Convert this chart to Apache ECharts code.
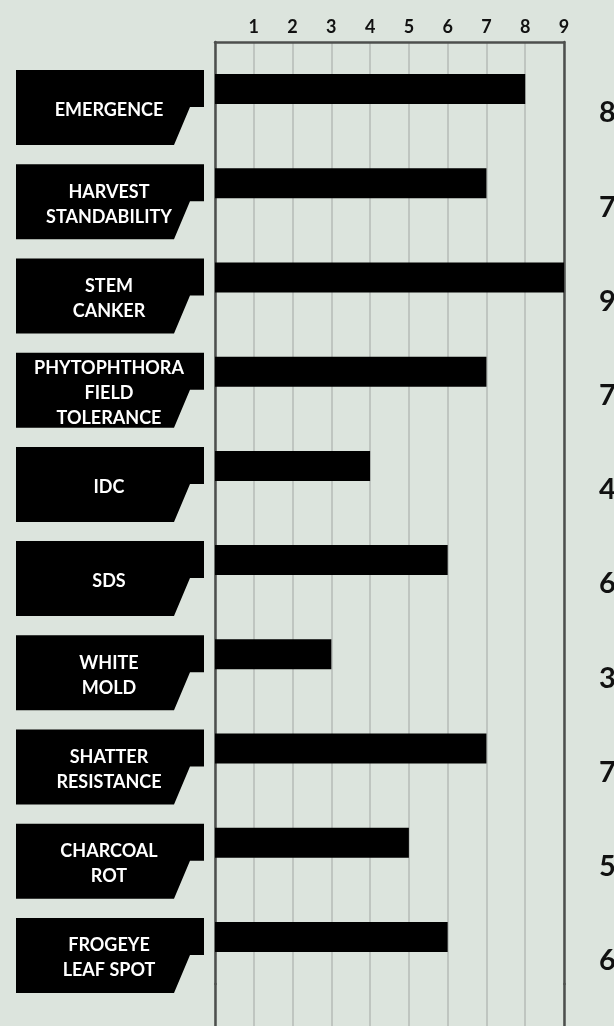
<!DOCTYPE html>
<html>
<head>
<meta charset="utf-8">
<script src="https://cdn.jsdelivr.net/npm/echarts@6/dist/echarts.min.js"></script>
<style>
html,body{margin:0;padding:0;background:#dce4dd;}
#chart{width:614px;height:1026px;}
</style>
</head>
<body>
<div id="chart"></div>
<script>
const categories = ['EMERGENCE','HARVEST\nSTANDABILITY','STEM\nCANKER','PHYTOPHTHORA\nFIELD\nTOLERANCE','IDC','SDS','WHITE\nMOLD','SHATTER\nRESISTANCE','CHARCOAL\nROT','FROGEYE\nLEAF SPOT'];
const values = [8, 7, 9, 7, 4, 6, 3, 7, 5, 6];
const tickLabels = ['', '1', '2', '3', '4', '5', '6', '7', '8', '9'];

const chart = echarts.init(document.getElementById('chart'), null, {renderer: 'canvas'});
const FONT = 'Lato, "Open Sans", sans-serif';
const BORDER = {show: true, lineStyle: {color: '#4d4f4d', width: 2.5}};
const SPLIT = {show: true, lineStyle: {color: '#b6bbb6', width: 1.5}};
const NONE = {show: false};

const option = {
  backgroundColor: '#dce4dd',
  animation: false,
  grid: [
    {left: 215, right: 50, top: 42, height: 942},
    {left: 215, right: 50, top: 984, bottom: -10}
  ],
  xAxis: [{
    gridIndex: 0, type: 'value', position: 'top', min: 0, max: 9, interval: 1,
    axisLine: BORDER, axisTick: NONE,
    axisLabel: {
      margin: 6, color: '#111', fontFamily: FONT, fontWeight: 'bold', fontSize: 18,
      formatter: v => tickLabels[v] || ''
    },
    splitLine: SPLIT
  }, {
    gridIndex: 1, type: 'value', position: 'bottom', min: 0, max: 9, interval: 1,
    axisLine: NONE, axisTick: NONE, axisLabel: NONE, splitLine: SPLIT
  }],
  yAxis: [{
    gridIndex: 0, type: 'category', inverse: true, data: categories,
    axisLine: BORDER, axisTick: NONE, axisLabel: NONE, splitLine: NONE
  }, {
    gridIndex: 0, type: 'category', inverse: true, data: categories, position: 'right',
    axisLine: BORDER, axisTick: NONE, axisLabel: NONE, splitLine: NONE
  }, {
    gridIndex: 1, type: 'value', min: 0, max: 1, position: 'left',
    axisLine: BORDER, axisTick: NONE, axisLabel: NONE, splitLine: NONE
  }, {
    gridIndex: 1, type: 'value', min: 0, max: 1, position: 'right',
    axisLine: BORDER, axisTick: NONE, axisLabel: NONE, splitLine: NONE
  }],
  series: [{
    type: 'bar', xAxisIndex: 0, yAxisIndex: 0, data: values, barWidth: 30, silent: true,
    itemStyle: {color: '#000'}, z: 3
  }, {
    type: 'custom', xAxisIndex: 0, yAxisIndex: 0, silent: true, z: 4,
    data: categories.map((c, i) => [0, i]),
    renderItem: (params, api) => {
      const yc = api.coord([0, api.value(1)])[1];
      const top = yc - 19, bot = yc + 56, notch = top + 37;
      return {
        type: 'group',
        children: [{
          type: 'polygon',
          shape: {points: [[16, top], [204, top], [204, notch], [190, notch], [174, bot], [16, bot]]},
          style: {fill: '#000'}
        }, {
          type: 'text',
          style: {
            text: categories[params.dataIndex], x: 109, y: yc + 21,
            textAlign: 'center', textVerticalAlign: 'middle',
            fill: '#fff', font: 'bold 18px ' + FONT, lineHeight: 25
          }
        }]
      };
    }
  }, {
    type: 'custom', xAxisIndex: 0, yAxisIndex: 0, silent: true, z: 4,
    data: values.map((v, i) => [v, i]),
    renderItem: (params, api) => {
      const yc = api.coord([0, api.value(1)])[1];
      return {
        type: 'text',
        style: {
          text: String(api.value(0)), x: 599, y: yc + 24,
          textAlign: 'left', textVerticalAlign: 'middle',
          fill: '#111', font: 'bold 29px ' + FONT
        }
      };
    }
  }]
};
chart.setOption(option);
</script>
</body>
</html>
